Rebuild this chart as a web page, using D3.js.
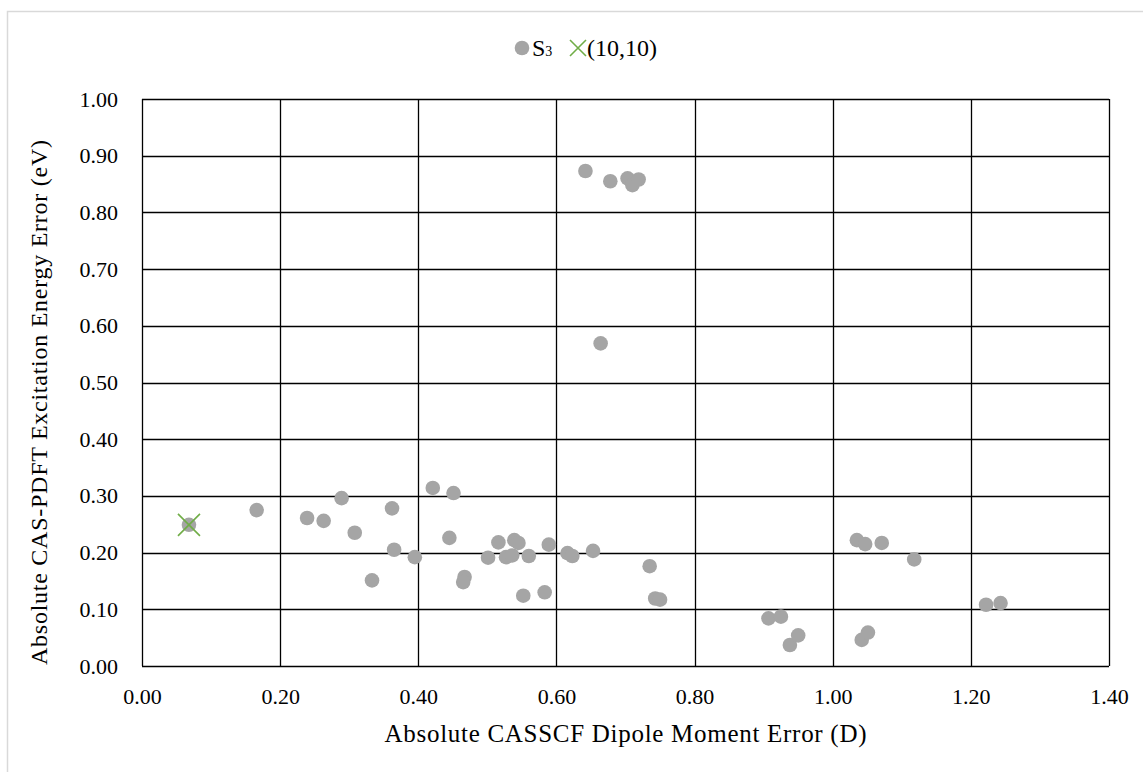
<!DOCTYPE html>
<html>
<head>
<meta charset="utf-8">
<script src="https://cdn.jsdelivr.net/npm/d3@7"></script>
<style>
  html, body { margin: 0; padding: 0; background: #fff; }
  svg { display: block; font-family: "Liberation Serif", "Times New Roman", serif; }
</style>
</head>
<body>
<svg id="chart" width="1143" height="772"></svg>
<script>
// S3 state: absolute CASSCF dipole moment error (D) vs CAS-PDFT excitation energy error (eV)
const s3Dipole = [
  0.068, 0.166, 0.239, 0.263, 0.289, 0.308, 0.333, 0.362, 0.365, 0.395,
  0.421, 0.451, 0.445, 0.467, 0.465, 0.501, 0.516, 0.527, 0.536, 0.539,
  0.545, 0.552, 0.560, 0.583, 0.589, 0.616, 0.623, 0.653, 0.642, 0.678,
  0.703, 0.710, 0.719, 0.664, 0.735, 0.743, 0.750, 0.907, 0.925, 0.938,
  0.950, 1.035, 1.047, 1.071, 1.042, 1.051, 1.118, 1.222, 1.243
];
const s3Energy = [
  0.249, 0.275, 0.261, 0.256, 0.296, 0.235, 0.151, 0.278, 0.205, 0.192,
  0.314, 0.305, 0.226, 0.157, 0.148, 0.191, 0.218, 0.192, 0.195, 0.222,
  0.217, 0.124, 0.194, 0.130, 0.214, 0.199, 0.194, 0.203, 0.873, 0.855,
  0.860, 0.848, 0.858, 0.569, 0.176, 0.119, 0.117, 0.084, 0.087, 0.037,
  0.054, 0.222, 0.215, 0.217, 0.046, 0.059, 0.188, 0.108, 0.111
];
// (10,10) active space reference point
const cas1010Dipole = [0.068];
const cas1010Energy = [0.249];

const xTicks = [0, 0.2, 0.4, 0.6, 0.8, 1.0, 1.2, 1.4];
const yTicks = [0, 0.1, 0.2, 0.3, 0.4, 0.5, 0.6, 0.7, 0.8, 0.9, 1.0];

const xTitle = "Absolute CASSCF Dipole Moment Error (D)";
const yTitle = "Absolute CAS-PDFT Excitation Energy Error (eV)";

const svg = d3.select("#chart");
const W = 1143, H = 772;
const plot = { left: 142, right: 1109, top: 99, bottom: 666 };

const x = d3.scaleLinear().domain([0, 1.4]).range([plot.left, plot.right]);
const y = d3.scaleLinear().domain([0, 1.0]).range([plot.bottom, plot.top]);

// chart frame
svg.append("rect")
  .attr("x", 7.5).attr("y", 11.5)
  .attr("width", W + 10).attr("height", H + 10)
  .attr("fill", "#fff").attr("stroke", "#d9d9d9").attr("stroke-width", 1.5);

// gridlines
const grid = svg.append("g");
grid.selectAll("line.v").data(xTicks).join("line")
  .attr("class", "v")
  .attr("x1", d => Math.round(x(d)) + 0.5).attr("x2", d => Math.round(x(d)) + 0.5)
  .attr("y1", plot.top).attr("y2", plot.bottom)
  .attr("stroke", "#000").attr("stroke-width", 1.3);
grid.selectAll("line.h").data(yTicks).join("line")
  .attr("class", "h")
  .attr("y1", d => Math.round(y(d)) + 0.5).attr("y2", d => Math.round(y(d)) + 0.5)
  .attr("x1", plot.left).attr("x2", plot.right)
  .attr("stroke", "#000").attr("stroke-width", 1.3);

// axes (labels only; lines come from the grid)
const xAxis = d3.axisBottom(x).tickValues(xTicks).tickFormat(d3.format(".2f")).tickSize(0).tickPadding(22);
const yAxis = d3.axisLeft(y).tickValues(yTicks).tickFormat(d3.format(".2f")).tickSize(0).tickPadding(24);

const gx = svg.append("g").attr("transform", `translate(0,${plot.bottom})`).call(xAxis);
const gy = svg.append("g").attr("transform", `translate(${plot.left},0)`).call(yAxis);
[gx, gy].forEach(g => {
  g.select(".domain").remove();
  g.selectAll("text")
    .attr("font-family", "Liberation Serif, Times New Roman, serif")
    .attr("font-size", 22).attr("fill", "#000");
});

// axis titles
svg.append("text")
  .attr("x", (plot.left + plot.right) / 2).attr("y", 742)
  .attr("text-anchor", "middle").attr("font-size", 25).attr("fill", "#000")
  .attr("textLength", 482).attr("lengthAdjust", "spacing")
  .text(xTitle);
svg.append("text")
  .attr("transform", `translate(47,${(plot.top + plot.bottom) / 2 + 20}) rotate(-90)`)
  .attr("text-anchor", "middle").attr("font-size", 24).attr("fill", "#000")
  .attr("textLength", 525).attr("lengthAdjust", "spacing")
  .text(yTitle);

// S3 points
const s3 = d3.range(s3Dipole.length).map(i => ({ d: s3Dipole[i], e: s3Energy[i] }));
svg.append("g").selectAll("circle").data(s3).join("circle")
  .attr("cx", p => x(p.d)).attr("cy", p => y(p.e)).attr("r", 7.3)
  .attr("fill", "#a5a5a5");

// (10,10) marker
const cas = d3.range(cas1010Dipole.length).map(i => ({ d: cas1010Dipole[i], e: cas1010Energy[i] }));
const xs = 11;
const gCas = svg.append("g").selectAll("g").data(cas).join("g")
  .attr("transform", p => `translate(${x(p.d)},${y(p.e)})`);
gCas.append("path")
  .attr("d", `M${-xs},${-xs}L${xs},${xs}M${-xs},${xs}L${xs},${-xs}`)
  .attr("stroke", "#70ad47").attr("stroke-width", 1.6).attr("fill", "none");

// legend
const leg = svg.append("g").attr("transform", "translate(0,48)");
leg.append("circle").attr("cx", 522).attr("cy", 0).attr("r", 7.3).attr("fill", "#a5a5a5");
const sTxt = leg.append("text").attr("x", 532).attr("y", 8).attr("font-size", 24).attr("fill", "#000");
sTxt.append("tspan").text("S");
sTxt.append("tspan").attr("font-size", 14).text("3");
leg.append("path")
  .attr("d", "M570,-8L586,8M570,8L586,-8")
  .attr("stroke", "#70ad47").attr("stroke-width", 1.6).attr("fill", "none");
leg.append("text").attr("x", 587).attr("y", 8).attr("font-size", 24).attr("fill", "#000").text("(10,10)");
</script>
</body>
</html>
